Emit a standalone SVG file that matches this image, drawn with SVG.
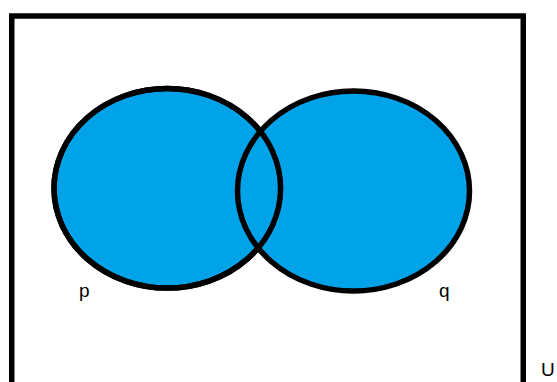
<svg xmlns="http://www.w3.org/2000/svg" width="557" height="382" viewBox="0 0 557 382">
<style>
.set{fill:#00A2E8;stroke:#000;stroke-width:5.5}
.lbl{font-family:"Liberation Sans",Arial,sans-serif;font-size:19px;fill:#000}
</style>
<rect width="557" height="382" fill="#fff"/>
<g id="universe">
<rect x="11.75" y="16" width="511.5" height="380" fill="none" stroke="#000" stroke-width="5.5"/>
<text class="lbl" x="541" y="376">U</text>
</g>
<g id="set-p">
<ellipse class="set" cx="167.3" cy="188.3" rx="113.3" ry="99.8"/>
</g>
<g id="set-q">
<ellipse class="set" cx="353.5" cy="191" rx="116" ry="100"/>
</g>
<g id="overlap-outline">
<ellipse cx="167.3" cy="188.3" rx="113.3" ry="99.8" fill="none" stroke="#000" stroke-width="5.5"/>
</g>
<g id="labels">
<text class="lbl" x="79" y="297">p</text>
<text class="lbl" x="439" y="297">q</text>
</g>
</svg>
